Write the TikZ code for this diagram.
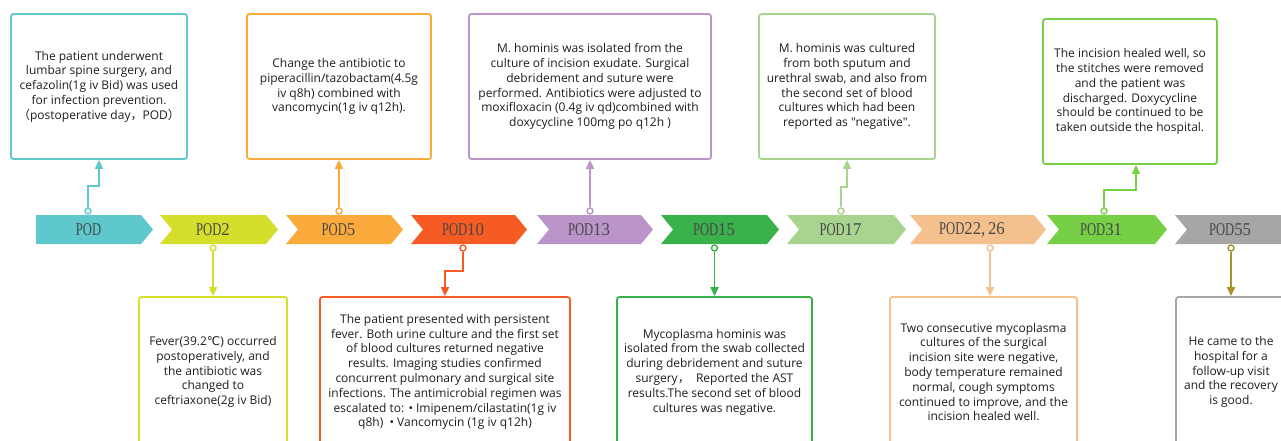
\documentclass[tikz,border=0pt]{standalone}
\usepackage{fontspec}
\newfontfamily\boxfont{Open Sans}
\newfontfamily\podfont{Liberation Serif}
\newfontfamily\cjkfont{Noto Sans CJK SC}
\newfontfamily\symfont{DejaVu Sans}
\usetikzlibrary{arrows.meta}
\definecolor{tealc}{HTML}{5EC8CC}
\definecolor{limec}{HTML}{D5DE2A}
\definecolor{orangec}{HTML}{FBAB3B}
\definecolor{redc}{HTML}{F55B22}
\definecolor{lavc}{HTML}{BB95C9}
\definecolor{greenc}{HTML}{3BB14B}
\definecolor{lgreenc}{HTML}{A9D490}
\definecolor{peachc}{HTML}{F4C08D}
\definecolor{greentwoc}{HTML}{76CF45}
\definecolor{grayc}{HTML}{A6A6A6}
\definecolor{olivec}{HTML}{A8922A}
\definecolor{labelc}{HTML}{474747}
\definecolor{txtc}{HTML}{1E1E1E}
\tikzset{
  podlabel/.style={text=labelc, inner sep=0pt, font=\podfont\fontsize{18}{18}\selectfont},
  infobox/.style={draw=#1, line width=1.8pt, rounded corners=2.5pt, fill=white, align=center,
    font=\boxfont\fontsize{12}{14.8}\selectfont, text=txtc, inner sep=2pt},
  conn/.style={draw=#1, line width=1.8pt, -{Triangle[width=8pt,length=9pt]}},
  dot/.style={circle, draw=#1, fill=white, line width=1.4pt, minimum size=6pt, inner sep=0pt}
}
\newcommand{\podtext}[1]{\scalebox{0.7}[1]{POD}\scalebox{0.93}[1]{#1}}
\newcommand{\mychev}[5]{%
  \fill[#4] (#2,215) -- (#3,215) -- ({#3+12},229.5) -- (#3,244) -- (#2,244) -- ({#2+12},229.5) -- cycle;
  \node[podlabel] (#1) at ({(#2+#3)/2},229.5) {\podtext{#5}};
}
\begin{document}
\begin{tikzpicture}[x=1pt,y=-1pt]
\useasboundingbox (0,0) rectangle (1281,440);
% chevrons
\fill[tealc] (36,215) -- (141,215) -- (153,229.5) -- (141,244) -- (36,244) -- cycle;
\node[podlabel] (p0) at (88.5,229.5) {\podtext{}};
\mychev{p2}{160}{266}{limec}{2}
\mychev{p5}{286}{391}{orangec}{5}
\mychev{p10}{411}{515}{redc}{10}
\mychev{p13}{537}{641}{lavc}{13}
\mychev{p15}{661}{767}{greenc}{15}
\mychev{p17}{787}{894}{lgreenc}{17}
\mychev{p22}{910}{1034}{peachc}{22,\,26}
\mychev{p31}{1047}{1155}{greentwoc}{31}
\mychev{p55}{1175}{1285}{grayc}{55}
% top boxes
\node[infobox=tealc, minimum width=176pt, minimum height=145pt] (b0) at (99,86.5)
  {The patient underwent\\lumbar spine surgery, and\\cefazolin(1g iv Bid) was used\\for infection prevention.\\{\cjkfont （}postoperative day{\cjkfont ，}POD{\cjkfont ）}};
\node[infobox=orangec, minimum width=184pt, minimum height=145pt] (b5) at (339,86.5)
  {Change the antibiotic to\\piperacillin/tazobactam(4.5g\\iv q8h) combined with\\vancomycin(1g iv q12h).};
\node[infobox=lavc, minimum width=242pt, minimum height=145pt] (b13) at (590,86.5)
  {M. hominis was isolated from the\\culture of incision exudate. Surgical\\debridement and suture were\\performed. Antibiotics were adjusted to\\moxifloxacin (0.4g iv qd)combined with\\doxycycline 100mg po q12h )};
\node[infobox=lgreenc, minimum width=176pt, minimum height=145pt] (b17) at (847,86.5)
  {M. hominis was cultured\\from both sputum and\\urethral swab, and also from\\the second set of blood\\cultures which had been\\reported as "negative".};
\node[infobox=greentwoc, minimum width=174pt, minimum height=145pt] (b31) at (1130,91.5)
  {The incision healed well, so\\the stitches were removed\\and the patient was\\discharged. Doxycycline\\should be continued to be\\taken outside the hospital.};
% bottom boxes
\node[infobox=limec, minimum width=148pt, minimum height=150pt] (b2) at (213,372)
  {Fever(39.2{\symfont ℃}) occurred\\postoperatively, and\\the antibiotic was\\changed to\\ceftriaxone(2g iv Bid)};
\node[infobox=redc, minimum width=250pt, minimum height=150pt] (b10) at (445,372)
  {The patient presented with persistent\\fever. Both urine culture and the first set\\of blood cultures returned negative\\results. Imaging studies confirmed\\concurrent pulmonary and surgical site\\infections. The antimicrobial regimen was\\escalated to: • Imipenem/cilastatin(1g iv\\q8h) \ • Vancomycin (1g iv q12h)};
\node[infobox=greenc, minimum width=195pt, minimum height=150pt] (b15) at (714.5,372)
  {Mycoplasma hominis was\\isolated from the swab collected\\during debridement and suture\\surgery{\cjkfont ，} \ Reported the AST\\results.The second set of blood\\cultures was negative.};
\node[infobox=peachc, minimum width=187pt, minimum height=150pt] (b22) at (983.5,372)
  {Two consecutive mycoplasma\\cultures of the surgical\\incision site were negative,\\body temperature remained\\normal, cough symptoms\\continued to improve, and the\\incision healed well.};
\node[infobox=grayc, minimum width=110pt, minimum height=150pt] (b55) at (1231,372)
  {He came to the\\hospital for a\\follow-up visit\\and the recovery\\is good.};
% dots
\node[dot=tealc] (d0) at (88,211) {};
\node[dot=orangec] (d5) at (339,211) {};
\node[dot=lavc] (d13) at (590,211) {};
\node[dot=lgreenc] (d17) at (841,211) {};
\node[dot=greentwoc] (d31) at (1104,211) {};
\node[dot=limec] (d2) at (213,248) {};
\node[dot=redc] (d10) at (463,248) {};
\node[dot=greenc] (d15) at (714.5,248) {};
\node[dot=peachc] (d22) at (990,248) {};
\node[dot=olivec] (d55) at (1231,248) {};
% connectors
\draw[conn=tealc] (d0.north) -- ++(0,-21) -| (b0.south);
\draw[conn=orangec] (d5.north) -- (d5.north |- b5.south);
\draw[conn=lavc] (d13.north) -- (d13.north |- b13.south);
\draw[conn=lgreenc] (d17.north) -- ++(0,-20) -| (b17.south);
\draw[conn=greentwoc] (d31.north) -- ++(0,-17) -| ([xshift=6pt]b31.south);
\draw[conn=limec] (d2.south) -- (d2.south |- b2.north);
\draw[conn=redc] (d10.south) -- ++(0,19) -| (b10.north);
\draw[conn=greenc] (d15.south) -- (d15.south |- b15.north);
\draw[conn=peachc] (d22.south) -- (d22.south |- b22.north);
\draw[conn=olivec] (d55.south) -- (d55.south |- b55.north);
\end{tikzpicture}
\end{document}
